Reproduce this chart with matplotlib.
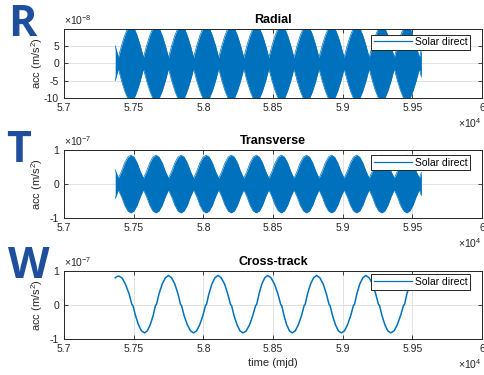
import numpy as np
import matplotlib
matplotlib.use("Agg")
import matplotlib.pyplot as plt
from matplotlib.lines import Line2D

plt.rcParams['font.family'] = ['Liberation Sans', 'DejaVu Sans']
plt.rcParams['mathtext.default'] = 'regular'

BLUE = '#0072BD'
AXC = '#262626'
LETTER = '#1f4e9c'

# ---------------- data ----------------
# Solar direct radiation pressure acceleration, orbit-averaged envelope
# Radial: envelope amplitude (units of 1e-8 m/s^2), sampled every 22.5 days
radial_days = list(np.arange(57367.5, 59551, 22.5)) + [59565]
radial_env = [5.0,
              1.6, 5.0, 7.9, 10.1, 10.6, 10.1, 7.9, 5.0,
              1.6, 5.0, 7.9, 10.1, 10.6, 10.1, 7.9, 5.0,
              1.6, 5.0, 7.9, 10.1, 10.6, 10.1, 7.9, 5.0,
              1.6, 5.0, 7.9, 10.1, 10.6, 10.1, 7.9, 5.0,
              1.6, 5.0, 7.9, 10.1, 10.6, 10.1, 7.9, 5.0,
              1.6, 5.0, 7.9, 10.1, 10.6, 10.1, 7.9, 5.0,
              1.6, 5.0, 7.9, 10.1, 10.6, 10.1, 7.9, 5.0,
              1.6, 5.0, 7.9, 10.1, 10.6, 10.1, 7.9, 5.0,
              1.6, 5.0, 7.9, 10.1, 10.6, 10.1, 7.9, 5.0,
              1.6, 5.0, 7.9, 10.1, 10.6, 10.1, 7.9, 5.0,
              1.6, 5.0, 7.9, 10.1, 10.6, 10.1, 7.9, 5.0,
              1.6, 5.0, 7.9, 10.1, 10.6, 10.1, 7.9, 5.0,
              1.6,
              4.0]

# Transverse: envelope amplitude (units of 1e-7 m/s^2), same sampling
transverse_days = list(np.arange(57367.5, 59551, 22.5)) + [59565]
transverse_env = [0.42,
                  0.17, 0.37, 0.62, 0.79, 0.85, 0.79, 0.62, 0.37,
                  0.17, 0.37, 0.62, 0.79, 0.85, 0.79, 0.62, 0.37,
                  0.17, 0.37, 0.62, 0.79, 0.85, 0.79, 0.62, 0.37,
                  0.17, 0.37, 0.62, 0.79, 0.85, 0.79, 0.62, 0.37,
                  0.17, 0.37, 0.62, 0.79, 0.85, 0.79, 0.62, 0.37,
                  0.17, 0.37, 0.62, 0.79, 0.85, 0.79, 0.62, 0.37,
                  0.17, 0.37, 0.62, 0.79, 0.85, 0.79, 0.62, 0.37,
                  0.17, 0.37, 0.62, 0.79, 0.85, 0.79, 0.62, 0.37,
                  0.17, 0.37, 0.62, 0.79, 0.85, 0.79, 0.62, 0.37,
                  0.17, 0.37, 0.62, 0.79, 0.85, 0.79, 0.62, 0.37,
                  0.17, 0.37, 0.62, 0.79, 0.85, 0.79, 0.62, 0.37,
                  0.17, 0.37, 0.62, 0.79, 0.85, 0.79, 0.62, 0.37,
                  0.17,
                  0.34]

# Cross-track acceleration (units of 1e-7 m/s^2); short flat steps at the
# node crossings where the eclipse season switches the force off
cross_days = [57368, 57381, 57394, 57418, 57442, 57467, 57487, 57495,
              57513, 57534, 57556, 57578, 57598, 57619, 57640, 57656, 57664,
              57682, 57705, 57728, 57750, 57772, 57795, 57818, 57836, 57844,
              57862, 57885, 57908, 57930, 57952, 57974, 57997, 58015, 58023,
              58040, 58062, 58083, 58105, 58128, 58152, 58175, 58195, 58203,
              58220, 58242, 58263, 58285, 58308, 58332, 58355, 58375, 58383,
              58400, 58420, 58441, 58462, 58486, 58510, 58535, 58555, 58563,
              58579, 58598, 58618, 58638, 58660, 58682, 58705, 58723, 58731,
              58748, 58770, 58791, 58813, 58836, 58860, 58883, 58902, 58910,
              58927, 58948, 58969, 58990, 59013, 59035, 59058, 59077, 59085,
              59102, 59123, 59145, 59166, 59190, 59214, 59237, 59257, 59265,
              59282, 59303, 59324, 59345, 59369, 59392, 59416, 59436, 59444,
              59461, 59483, 59504, 59525, 59544, 59562]
cross_acc = [0.80, 0.84, 0.85, 0.79, 0.60, 0.33, 0.02, -0.02,
             -0.31, -0.58, -0.76, -0.82, -0.76, -0.58, -0.31, -0.02, 0.02,
             0.33, 0.62, 0.80, 0.87, 0.80, 0.62, 0.33, 0.02, -0.02,
             -0.31, -0.58, -0.76, -0.82, -0.76, -0.58, -0.31, -0.02, 0.02,
             0.33, 0.62, 0.80, 0.87, 0.80, 0.62, 0.33, 0.02, -0.02,
             -0.31, -0.58, -0.76, -0.82, -0.76, -0.58, -0.31, -0.02, 0.02,
             0.33, 0.62, 0.80, 0.87, 0.80, 0.62, 0.33, 0.02, -0.02,
             -0.31, -0.58, -0.76, -0.82, -0.76, -0.58, -0.31, -0.02, 0.02,
             0.33, 0.62, 0.80, 0.87, 0.80, 0.62, 0.33, 0.02, -0.02,
             -0.31, -0.58, -0.76, -0.82, -0.76, -0.58, -0.31, -0.02, 0.02,
             0.33, 0.62, 0.80, 0.87, 0.80, 0.62, 0.33, 0.02, -0.02,
             -0.31, -0.58, -0.76, -0.82, -0.76, -0.58, -0.31, -0.02, 0.02,
             0.33, 0.62, 0.80, 0.86, 0.84, 0.80]

xtick_vals = [57000, 57500, 58000, 58500, 59000, 59500, 60000]
xtick_labels = ['5.7', '5.75', '5.8', '5.85', '5.9', '5.95', '6']

titles = ['Radial', 'Transverse', 'Cross-track']
letters = ['R', 'T', 'W']
exponents = [r'$\times10^{-8}$', r'$\times10^{-7}$', r'$\times10^{-7}$']

# ---------------- figure ----------------
W, H = 485, 375
fig = plt.figure(figsize=(W / 100, H / 100), dpi=100)

def px_axes(left, top, right, bottom):
    return fig.add_axes([left / W, 1 - bottom / H, (right - left) / W, (bottom - top) / H])

axes = [px_axes(64, 29, 482, 98), px_axes(64, 150, 482, 218), px_axes(64, 271, 482, 339)]

# Radial
ax = axes[0]
renv = np.array(radial_env)
ax.fill_between(radial_days, -renv, renv, color=BLUE, lw=0)
ax.plot(radial_days, renv, color=BLUE, lw=0.5)
ax.plot(radial_days, -renv, color=BLUE, lw=0.5)
ax.set_ylim(-10, 9.8)
ax.set_yticks([-10, -5, 0, 5])
ax.set_yticklabels(['-10', '-5', '0', '5'])

# Transverse
ax = axes[1]
tenv = np.array(transverse_env)
ax.fill_between(transverse_days, -tenv, tenv, color=BLUE, lw=0)
ax.plot(transverse_days, tenv, color=BLUE, lw=0.5)
ax.plot(transverse_days, -tenv, color=BLUE, lw=0.5)
ax.set_ylim(-1, 1)
ax.set_yticks([-1, 0, 1])
ax.set_yticklabels(['-1', '0', '1'])

# Cross-track
ax = axes[2]
ax.plot(cross_days, cross_acc, color=BLUE, lw=1.1)
ax.set_ylim(-1, 1)
ax.set_yticks([-1, 0, 1])
ax.set_yticklabels(['-1', '0', '1'])
ax.set_xlabel('time (mjd)', fontsize=8, color=AXC, labelpad=3)

legend_tops = [0.92, 0.925, 0.95]
for i, ax in enumerate(axes):
    ax.set_xlim(57000, 60000)
    ax.set_xticks(xtick_vals)
    ax.set_xticklabels(xtick_labels)
    ax.grid(True, color='#dedede', lw=0.6)
    ax.set_axisbelow(True)
    ax.tick_params(direction='in', top=True, right=True, length=3, width=0.6,
                   labelsize=7.5, colors=AXC, pad=3.5)
    for s in ax.spines.values():
        s.set_color(AXC)
        s.set_linewidth(0.7)
    ax.set_title(titles[i], fontsize=9, fontweight='bold', pad=4, color='black')
    ax.set_ylabel(r'acc (m/s$^{2}$)', fontsize=8, color=AXC)
    ax.yaxis.set_label_coords(-0.046, 0.5)
    ax.text(0.0, 1.03, exponents[i], transform=ax.transAxes, ha='left', va='bottom',
            fontsize=7.5, color=AXC)
    ax.text(1.0, -0.37, r'$\times10^{4}$', transform=ax.transAxes, ha='right', va='center',
            fontsize=7.5, color=AXC)
    handle = Line2D([], [], color=BLUE, lw=0.9)
    leg = ax.legend([handle], ['Solar direct'], loc='upper right',
                    bbox_to_anchor=(0.971, legend_tops[i]),
                    borderaxespad=0, fontsize=7.5, fancybox=False, framealpha=1,
                    edgecolor=AXC, handlelength=3.6, handletextpad=0.3,
                    borderpad=0.25)
    leg.get_frame().set_linewidth(0.7)

# Panel letters
letter_pos = [(0.016, 0.903), (0.012, 0.568), (0.016, 0.259)]
for (x, y), L in zip(letter_pos, letters):
    fig.text(x, y, L, fontsize=31, fontweight='bold', color=LETTER,
             family='Open Sans', ha='left', va='baseline')

fig.savefig('out.png', dpi=100)
